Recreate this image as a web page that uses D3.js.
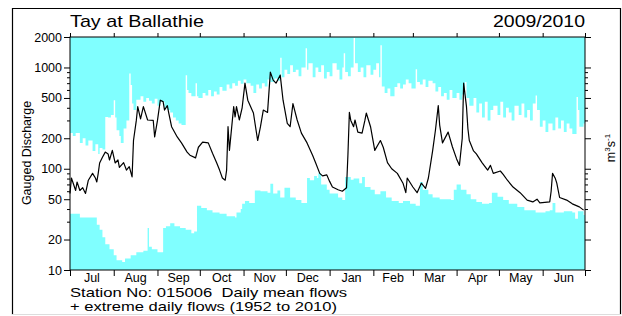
<!DOCTYPE html>
<html>
<head>
<meta charset="utf-8">
<script src="https://cdn.jsdelivr.net/npm/d3@7"></script>
<style>
  body { margin: 0; background: #fff; }
  text { font-family: "Liberation Sans", Arial, Helvetica, sans-serif; }
</style>
</head>
<body>
<div id="chart"></div>
<script>
const width = 622;
const height = 316;

// jours depuis le 1er juillet 2009
const startDate = new Date(2009, 6, 1);
const endDate = new Date(2010, 6, 1);

// débits journaliers moyens (m3/s)
const meanDays = [0,1,4,5,7,9,11,13,16,18,19,20,21,23,25,27,28,30,32,34,35,38,40,42,44,45,47,48,50,52,55,59,60,62,64,66,67,69,70,72,76,79,83,85,89,91,94,98,101,104,106,108,110,111,112,113,116,117,118,120,122,124,126,130,133,135,137,140,142,144,146,149,151,154,156,158,161,164,168,172,174,177,179,182,184,186,190,193,196,197,198,199,201,202,204,207,209,210,213,216,220,222,225,228,232,236,238,239,243,246,249,252,254,257,259,261,262,264,268,271,274,276,278,279,281,282,283,286,288,292,296,298,300,305,307,310,314,319,324,328,331,333,340,341,342,344,345,347,352,356,361,364];
const meanValues = [57,81,61,74,61,65,57,77,90,81,74,90,114,130,146,140,122,152,114,122,103,115,97,105,83,190,300,410,310,410,303,300,206,300,475,460,380,420,355,260,206,180,146,136,128,163,183,180,142,114,97,81,77,97,260,152,410,325,410,303,400,700,475,355,190,260,380,360,900,750,700,840,475,280,260,440,303,225,180,135,115,90,85,87,75,66,62,60,65,140,360,300,260,303,230,225,300,355,260,152,190,163,115,100,90,72,58,81,66,58,72,64,81,150,240,420,270,180,230,165,125,108,200,700,410,250,190,150,140,115,97,108,90,95,88,77,66,58,49,47,50,46,47,60,90,80,72,52,49,45,42,39];

// débits journaliers maximaux 1952-2010
const maxDays = [0,2,4,7,9,11,13,16,18,20,21,23,25,27,29,31,32,33,35,36,38,40,42,43,44,45,47,50,52,54,56,58,60,62,64,67,69,71,73,75,77,79,82,83,84,86,89,90,91,94,96,98,100,102,104,106,108,111,113,115,117,119,121,123,125,128,130,132,134,136,138,140,142,145,147,149,150,152,154,156,158,160,162,164,167,168,169,172,174,176,178,180,182,184,186,189,191,193,194,195,197,199,201,202,204,206,208,210,213,215,217,219,220,221,223,225,227,230,232,234,236,238,240,242,245,246,248,250,252,254,257,259,261,263,265,267,269,271,274,276,278,280,281,283,286,288,290,292,294,296,298,300,303,305,307,309,311,313,315,318,320,322,324,326,328,330,331,333,335,337,339,342,344,346,348,350,352,354,356,359,360,361,364];
const maxValues = [225,210,225,180,200,170,190,150,175,140,160,155,325,320,340,475,320,240,210,180,250,300,870,670,440,380,480,520,460,500,470,440,490,420,460,400,380,360,320,300,280,270,840,600,560,520,700,520,500,560,530,600,520,580,540,640,590,680,620,700,660,740,690,760,700,660,560,680,620,700,650,760,720,780,740,1250,800,950,860,1050,900,950,820,1000,1550,950,1100,800,1000,900,1050,780,900,820,1100,950,760,1000,1380,900,820,1000,1950,1100,900,1000,800,1050,850,950,1100,800,1660,650,560,620,520,640,700,620,680,760,700,620,960,720,680,760,640,740,700,580,640,520,560,480,600,500,560,480,540,720,500,420,500,360,440,320,460,300,380,420,340,460,320,400,360,300,420,340,440,320,380,300,440,530,380,260,300,230,280,240,320,250,300,230,280,250,220,510,380,260,280];

// débits journaliers minimaux 1952-2010
const minDays = [0,7,14,19,21,23,25,28,31,33,37,39,43,47,52,55,56,58,62,66,68,71,74,78,82,86,88,90,93,97,101,106,111,117,118,121,122,124,127,131,135,140,142,144,147,149,152,156,160,164,168,170,173,175,176,178,182,184,190,193,195,199,201,205,207,209,213,216,220,224,228,233,236,241,245,248,250,254,257,262,270,272,274,277,281,284,288,292,297,299,303,307,311,317,322,330,337,340,342,344,350,356,358,360,364];
const minValues = [36,33,33,28,25,21,18,16,14,12.5,12,13,14,15,15.5,26,17,16,15,26,27,29,27,26,25,23,24,43,41,39,37,36,34,33,37,40,45,48,46,61,60,58,71,57,61,52,65,52,49,46,81,77,85,81,90,70,62,57,52,49,83,78,80,72,83,66,62,56,60,52,48,46,48,45,43,74,62,56,52,50,49,62,70,62,56,50,47,45,46,58,53,49,45,42,39,37,38,39,46,37,38,37,32,38,35];

const yTickValues = [10, 20, 50, 100, 200, 500, 1000, 2000];

const margin = {left: 70, right: 585, top: 37, bottom: 270};
const cyan = "#80ffff";

const svg = d3.select("#chart").append("svg")
  .attr("width", width)
  .attr("height", height);

const x = d3.scaleTime()
  .domain([startDate, endDate])
  .range([margin.left, margin.right]);

const y = d3.scaleLog()
  .domain([10, 2000])
  .range([margin.bottom, margin.top]);

const toPoints = (days, values) => {
  const pts = days.map((d, i) => ({date: d3.timeDay.offset(startDate, d), v: values[i]}));
  // prolonger la dernière valeur jusqu'à la fin de l'année hydrologique
  pts.push({date: endDate, v: values[values.length - 1]});
  return pts;
};

const maxPts = toPoints(maxDays, maxValues);
const minPts = toPoints(minDays, minValues);
const meanPts = meanDays.map((d, i) => ({date: d3.timeDay.offset(startDate, d), v: meanValues[i]}));

// cadre extérieur
svg.append("path")
  .attr("d", "M12.5,314.5 V8.5 H620.5 V314.5")
  .attr("fill", "none")
  .attr("stroke", "#000")
  .attr("stroke-width", 1.2);
svg.append("line")
  .attr("x1", 12).attr("x2", 621)
  .attr("y1", 314.5).attr("y2", 314.5)
  .attr("stroke", "#ddd");

// zone des maxima
svg.append("path")
  .datum(maxPts)
  .attr("fill", cyan)
  .attr("d", d3.area()
    .curve(d3.curveStepAfter)
    .x(d => x(d.date))
    .y0(margin.top)
    .y1(d => y(d.v)));

// zone des minima
svg.append("path")
  .datum(minPts)
  .attr("fill", cyan)
  .attr("d", d3.area()
    .curve(d3.curveStepAfter)
    .x(d => x(d.date))
    .y0(margin.bottom)
    .y1(d => y(d.v)));

// débit moyen
svg.append("path")
  .datum(meanPts)
  .attr("fill", "none")
  .attr("stroke", "#000")
  .attr("stroke-width", 1.2)
  .attr("stroke-linejoin", "round")
  .attr("d", d3.line()
    .x(d => x(d.date))
    .y(d => y(d.v)));

// cadre du graphique
svg.append("rect")
  .attr("x", margin.left)
  .attr("y", margin.top)
  .attr("width", margin.right - margin.left)
  .attr("height", margin.bottom - margin.top)
  .attr("fill", "none")
  .attr("stroke", "#000")
  .attr("stroke-width", 1);

// graduations mineures
const minorTicks = [];
[10, 100, 1000].forEach(dec => {
  [3, 4, 6, 7, 8, 9].forEach(m => {
    if (dec * m < 2000) minorTicks.push(dec * m);
  });
});

const months = d3.timeMonth.range(startDate, d3.timeDay.offset(endDate, 1));

// axes
const yLeft = d3.axisLeft(y).tickValues(yTickValues).tickFormat(d3.format("d")).tickSize(6).tickPadding(2);
const yLeftMinor = d3.axisLeft(y).tickValues(minorTicks).tickFormat("").tickSize(3);
const yRight = d3.axisRight(y).tickValues(yTickValues).tickFormat("").tickSize(6);
const yRightMinor = d3.axisRight(y).tickValues(minorTicks).tickFormat("").tickSize(3);
const xBottom = d3.axisBottom(x).tickValues(months).tickFormat("").tickSize(6);
const xTop = d3.axisTop(x).tickValues(months).tickFormat("").tickSize(4);

function styleAxis(g) {
  g.select(".domain").remove();
  g.selectAll("line").attr("stroke", "#000");
  g.selectAll("text").attr("fill", "#000").style("font-size", "12.5px");
}

svg.append("g").attr("transform", `translate(${margin.left},0)`).call(yLeft).call(styleAxis);
svg.append("g").attr("transform", `translate(${margin.left},0)`).call(yLeftMinor).call(styleAxis);
svg.append("g").attr("transform", `translate(${margin.right},0)`).call(yRight).call(styleAxis);
svg.append("g").attr("transform", `translate(${margin.right},0)`).call(yRightMinor).call(styleAxis);
svg.append("g").attr("transform", `translate(0,${margin.bottom})`).call(xBottom).call(styleAxis);
svg.append("g").attr("transform", `translate(0,${margin.top})`).call(xTop).call(styleAxis);

// noms des mois au milieu
svg.append("g").selectAll("text")
  .data(d3.timeMonth.range(startDate, endDate))
  .join("text")
  .attr("x", d => (x(d) + x(d3.timeMonth.offset(d, 1))) / 2)
  .attr("y", 282)
  .attr("text-anchor", "middle")
  .style("font-size", "12.5px")
  .text(d3.timeFormat("%b"));

// titres
svg.append("text")
  .attr("x", 70).attr("y", 27)
  .style("font-size", "17px")
  .attr("textLength", 134)
  .attr("lengthAdjust", "spacingAndGlyphs")
  .text("Tay at Ballathie");

svg.append("text")
  .attr("x", 493).attr("y", 27)
  .style("font-size", "17px")
  .attr("textLength", 92)
  .attr("lengthAdjust", "spacingAndGlyphs")
  .text("2009/2010");

svg.append("text")
  .attr("transform", "translate(31,153) rotate(-90)")
  .attr("text-anchor", "middle")
  .style("font-size", "12.5px")
  .text("Gauged Discharge");

const unit = svg.append("text")
  .attr("transform", "translate(615,148) rotate(-90)")
  .attr("text-anchor", "middle")
  .style("font-size", "12.5px");
unit.append("tspan").text("m");
unit.append("tspan").attr("dy", -5).style("font-size", "8px").text("3");
unit.append("tspan").attr("dy", 5).text("s");
unit.append("tspan").attr("dy", -5).style("font-size", "8px").text("-1");

// pied de page
svg.append("text")
  .attr("x", 70).attr("y", 297)
  .style("font-size", "13px")
  .style("white-space", "pre")
  .attr("textLength", 277)
  .attr("lengthAdjust", "spacingAndGlyphs")
  .text("Station No: 015006  Daily mean flows");

svg.append("text")
  .attr("x", 70).attr("y", 310.5)
  .style("font-size", "13px")
  .attr("textLength", 267)
  .attr("lengthAdjust", "spacingAndGlyphs")
  .text("+ extreme daily flows (1952 to 2010)");
</script>
</body>
</html>
